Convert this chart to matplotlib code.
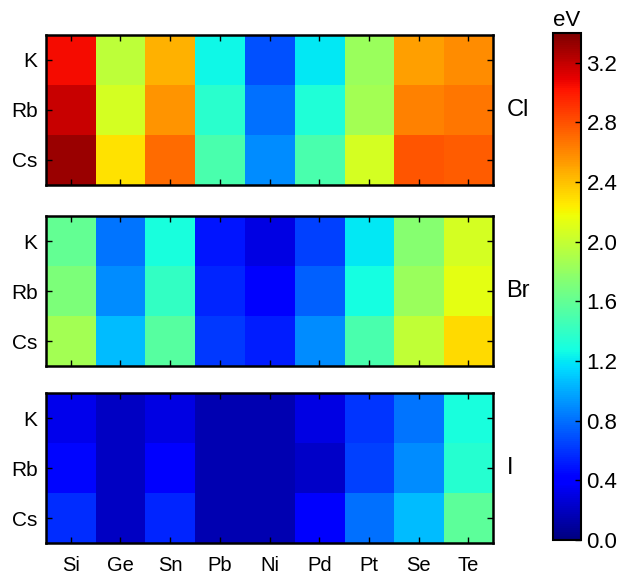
import numpy as np
import matplotlib
matplotlib.use('Agg')
import matplotlib.pyplot as plt

plt.rcParams['font.family'] = ['Liberation Sans', 'DejaVu Sans']

# data (eV), rows = K, Rb, Cs ; columns = B-site elements
cations = ['K', 'Rb', 'Cs']
elements = ['Si', 'Ge', 'Sn', 'Pb', 'Ni', 'Pd', 'Pt', 'Se', 'Te']
halides = ['Cl', 'Br', 'I']

gap_cl = [[3.05, 1.97, 2.45, 1.25, 0.70, 1.20, 1.82, 2.52, 2.58],
          [3.18, 2.07, 2.56, 1.36, 0.80, 1.32, 1.87, 2.62, 2.66],
          [3.32, 2.28, 2.70, 1.50, 0.90, 1.50, 2.07, 2.78, 2.76]]
gap_br = [[1.60, 0.82, 1.30, 0.50, 0.30, 0.65, 1.20, 1.75, 2.07],
          [1.70, 0.90, 1.40, 0.55, 0.38, 0.75, 1.28, 1.82, 2.13],
          [1.87, 1.05, 1.55, 0.62, 0.52, 0.90, 1.50, 1.98, 2.30]]
gap_i = [[0.32, 0.20, 0.30, 0.15, 0.15, 0.30, 0.60, 0.82, 1.30],
         [0.45, 0.20, 0.42, 0.15, 0.15, 0.22, 0.65, 0.90, 1.35],
         [0.58, 0.20, 0.55, 0.15, 0.15, 0.38, 0.80, 1.05, 1.58]]

vmin, vmax = 0.0, 3.4

fig = plt.figure(figsize=(6.29, 5.81), dpi=100)

bottoms = [0.682, 0.370, 0.0654]
for data, name, b in zip([gap_cl, gap_br, gap_i], halides, bottoms):
    ax = fig.add_axes([0.073, b, 0.711, 0.258])
    im = ax.imshow(np.array(data), cmap='jet', vmin=vmin, vmax=vmax,
                   aspect='auto', interpolation='nearest')
    ax.set_yticks(range(len(cations)))
    ax.set_yticklabels(cations, fontsize=15)
    ax.set_xticks(range(len(elements)))
    if name == 'I':
        ax.set_xticklabels(elements, fontsize=14.5)
    else:
        ax.set_xticklabels([])
    ax.tick_params(direction='in', top=True, right=True, length=4, width=1)
    ax.tick_params(axis='x', pad=9)
    ax.tick_params(axis='y', pad=6)
    for s in ax.spines.values():
        s.set_linewidth(1.8)
    ax.text(1.03, 0.5, name, transform=ax.transAxes, fontsize=17,
            va='center', ha='left')

cax = fig.add_axes([0.879, 0.0706, 0.0445, 0.873])
cb = fig.colorbar(im, cax=cax, ticks=np.arange(0, 3.3, 0.4))
cb.ax.set_yticklabels(['%.1f' % t for t in np.arange(0, 3.3, 0.4)], fontsize=16)
cb.ax.tick_params(direction='in', length=4, width=1, pad=4)
cb.outline.set_linewidth(1.5)
cax.set_title('eV', fontsize=16, pad=5)

fig.savefig('out.png', dpi=100)
